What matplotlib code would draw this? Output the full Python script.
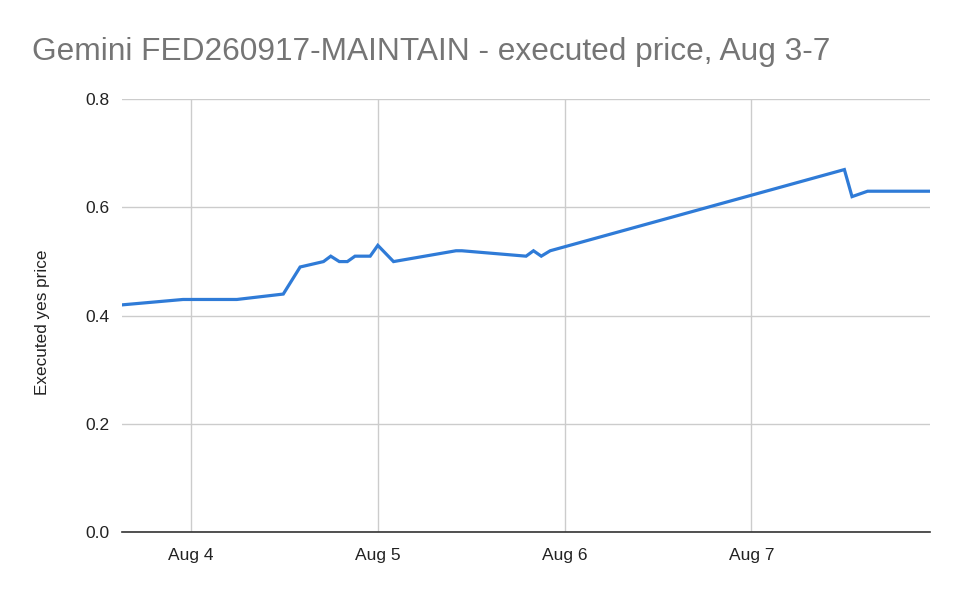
import matplotlib
matplotlib.use("Agg")
import matplotlib.pyplot as plt
import matplotlib.dates as mdates
import pandas as pd

# executed trades
times = [
    "2025-08-03 15:07", "2025-08-03 22:58", "2025-08-04 05:53", "2025-08-04 11:51",
    "2025-08-04 14:01", "2025-08-04 17:01", "2025-08-04 17:57", "2025-08-04 19:03",
    "2025-08-04 20:05", "2025-08-04 21:04", "2025-08-04 23:01", "2025-08-05 00:00",
    "2025-08-05 02:01", "2025-08-05 10:03", "2025-08-05 10:48", "2025-08-05 19:03",
    "2025-08-05 20:00", "2025-08-05 21:00", "2025-08-05 22:09", "2025-08-07 11:57",
    "2025-08-07 12:56", "2025-08-07 14:56", "2025-08-07 22:59",
]
prices = [
    0.42, 0.43, 0.43, 0.44,
    0.49, 0.50, 0.51, 0.50,
    0.50, 0.51, 0.51, 0.53,
    0.50, 0.52, 0.52, 0.51,
    0.52, 0.51, 0.52, 0.67,
    0.62, 0.63, 0.63,
]
tick_days = ["2025-08-04", "2025-08-05", "2025-08-06", "2025-08-07"]
y_ticks = [0.0, 0.2, 0.4, 0.6, 0.8]

title = "Gemini FED260917-MAINTAIN - executed price, Aug 3-7"
ylabel = "Executed yes price"

t = pd.to_datetime(times)
ticks = pd.to_datetime(tick_days)

plt.rcParams["font.family"] = ["Liberation Sans", "DejaVu Sans"]

fig = plt.figure(figsize=(9.6, 5.94), dpi=100)
ax = fig.add_axes([0.127, 0.104, 0.842, 0.729])

ax.plot(t, prices, color="#2f7bd7", linewidth=2.3, solid_joinstyle="miter")

ax.set_xlim(t[0], t[-1])
ax.set_ylim(0, 0.8)
ax.set_xticks(ticks)
ax.xaxis.set_major_formatter(mdates.DateFormatter("Aug %-d"))
ax.set_yticks(y_ticks)
ax.set_yticklabels([f"{v:.1f}" for v in y_ticks])

ax.grid(True, color="#cccccc", linewidth=1)
ax.set_axisbelow(True)
for s in ["top", "right", "left"]:
    ax.spines[s].set_visible(False)
ax.spines["bottom"].set_color("#333333")
ax.spines["bottom"].set_linewidth(1.2)
ax.spines["bottom"].set_zorder(3)
ax.tick_params(axis="both", length=0, labelsize=12.5, colors="#222222")
ax.tick_params(axis="x", pad=11)
ax.tick_params(axis="y", pad=9)

ax.set_ylabel(ylabel, fontsize=12.3, color="#222222")
ax.yaxis.set_label_coords(-0.089, 0.485)

fig.text(0.033, 0.912, title, fontsize=22.8, color="#757575", va="center", ha="left")

fig.savefig("out.png", dpi=100, facecolor="white")
